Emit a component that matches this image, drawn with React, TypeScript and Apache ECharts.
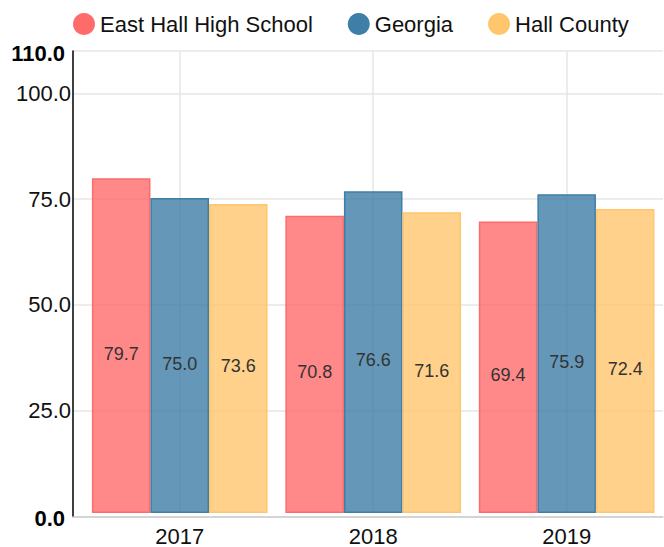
import React, { useEffect, useRef } from "react";
import * as echarts from "echarts";

const years = ["2017", "2018", "2019"];
const seriesNames = ["East Hall High School", "Georgia", "Hall County"];
const eastHall = [79.7, 70.8, 69.4];
const georgia = [75.0, 76.6, 75.9];
const hallCounty = [73.6, 71.6, 72.4];
const colors = ["#ff6b6b", "#3f7ea6", "#ffc66d"];
const fills = ["rgba(255,107,107,0.8)", "rgba(63,126,166,0.8)", "rgba(255,198,109,0.8)"];
const yMin = 0;
const yMax = 110;
const yInterval = 25;

const FONT = "'Liberation Sans', Arial, Helvetica, sans-serif";

export default function App() {
  const ref = useRef<HTMLDivElement>(null);
  useEffect(() => {
    if (!ref.current) return;
    const chart = echarts.init(ref.current, null, { renderer: "svg" });
    const values = [eastHall, georgia, hallCounty];
    const option: any = {
      animation: false,
      textStyle: { fontFamily: FONT },
      legend: {
        left: 68,
        top: 8,
        icon: "circle",
        itemWidth: 22,
        itemHeight: 22,
        itemGap: 35,
        textStyle: { fontSize: 22, color: "#111", fontFamily: FONT },
        data: seriesNames.map((n, i) => ({
          name: n,
          itemStyle: { color: colors[i], borderWidth: 0 },
        })),
      },
      grid: [
        { left: 73, right: 1, top: 51, height: 465.4, containLabel: false },
        { left: 83, width: 580.4, top: 51, height: 465.4, containLabel: false },
      ],
      xAxis: [
        {
          type: "category",
          gridIndex: 0,
          data: years,
          axisLine: { show: true, lineStyle: { color: "#cccccc", width: 1.5 } },
          axisTick: { show: false },
          axisLabel: { show: false },
          splitLine: { show: false },
        },
        {
          type: "category",
          gridIndex: 1,
          data: years,
          axisLine: { show: false },
          axisTick: { show: false, alignWithLabel: true },
          axisLabel: { fontSize: 22, color: "#111", margin: 12, fontFamily: FONT },
          splitLine: {
            show: true,
            alignWithLabel: true,
            lineStyle: { color: "#e6e6e6", width: 1.5 },
          },
        },
      ],
      yAxis: [
        {
          type: "value",
          gridIndex: 0,
          min: yMin,
          max: yMax,
          interval: yInterval,
          axisLine: { show: true, lineStyle: { color: "#000", width: 1.5 } },
          axisTick: { show: false },
          axisLabel: {
            margin: 2,
            fontSize: 22,
            color: "#111",
            fontFamily: FONT,
            formatter: (v: number) =>
              v === yMin || v === yMax ? `{b|${v.toFixed(1)}}` : v.toFixed(1),
            rich: {
              b: { fontWeight: "bold", fontSize: 22, color: "#000", padding: [4, 6, 0, 0], fontFamily: FONT },
            },
          },
          splitLine: { show: true, lineStyle: { color: "#e6e6e6", width: 1.5 } },
        },
        {
          type: "value",
          gridIndex: 1,
          min: yMin,
          max: yMax,
          interval: yInterval,
          show: false,
          splitLine: { show: false },
        },
      ],
      series: seriesNames.map((n, i) => ({
        name: n,
        type: "bar",
        xAxisIndex: 1,
        yAxisIndex: 1,
        data: values[i],
        barGap: "0%",
        barCategoryGap: "9.2%",
        itemStyle: { color: fills[i], borderColor: colors[i], borderWidth: 1.5 },
        label: {
          show: true,
          position: "inside",
          offset: [0, 8],
          fontSize: 18,
          color: "#333",
          fontFamily: FONT,
          formatter: (p: any) => Number(p.value).toFixed(1),
        },
      })),
    };
    chart.setOption(option);
    return () => chart.dispose();
  }, []);
  return (
    <div
      ref={ref}
      style={{ position: "fixed", left: 0, top: 0, width: 664, height: 547, background: "#fff" }}
    />
  );
}
